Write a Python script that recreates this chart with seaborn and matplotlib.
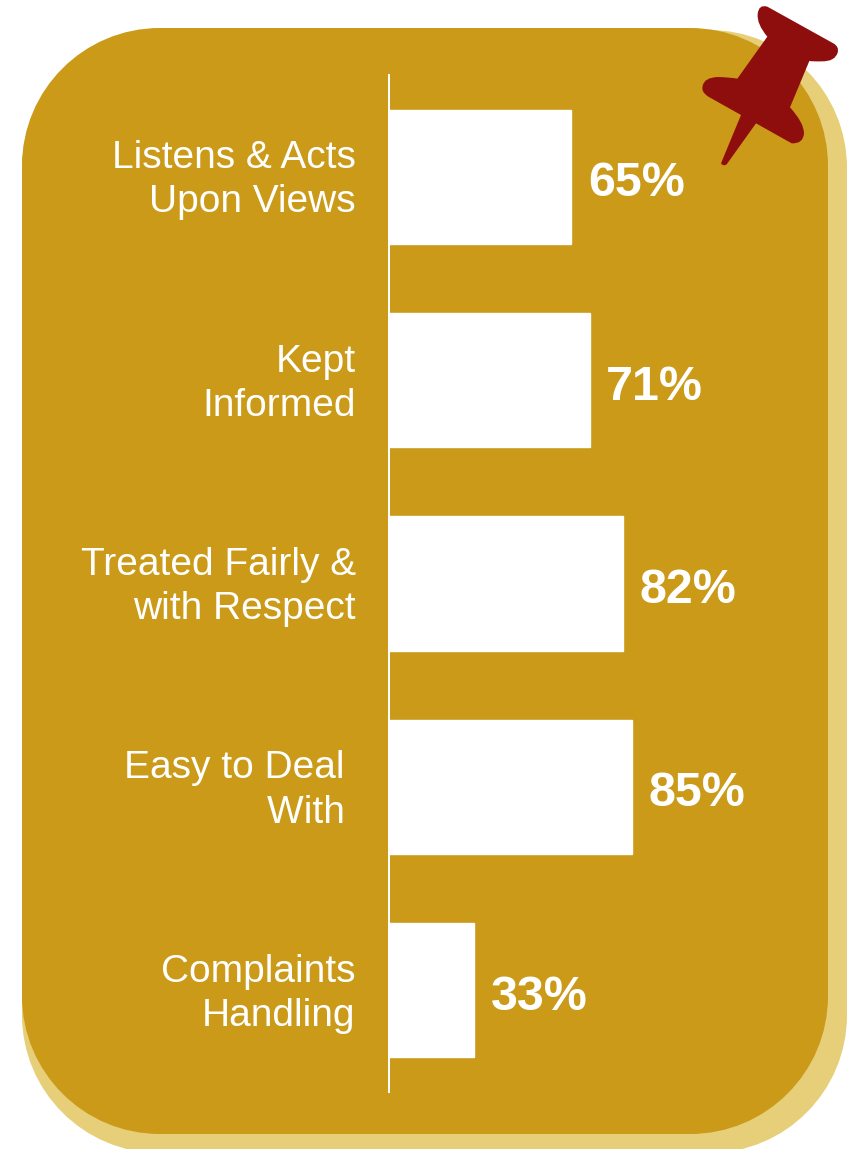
import matplotlib
matplotlib.use("Agg")
import matplotlib.pyplot as plt
import pandas as pd
import seaborn as sns
from matplotlib.patches import PathPatch
from matplotlib.path import Path
from matplotlib.transforms import ScaledTranslation

categories = [
    "Listens & Acts\nUpon Views",
    "Kept\nInformed",
    "Treated Fairly &\nwith Respect",
    "Easy to Deal \nWith ",
    "Complaints\nHandling",
]
scores = [65, 71, 82, 85, 33]
score_labels = ["65%", "71%", "82%", "85%", "33%"]

GOLD = "#CA9A18"
PALE_GOLD = "#E6CF78"
PIN_RED = "#8E0E0E"
W, H = 854, 1149

sns.set_style("white")
plt.rcParams["font.family"] = ["Liberation Sans", "DejaVu Sans"]

fig = plt.figure(figsize=(W / 100, H / 100), dpi=100, facecolor="white")

# Backing card and drawing pin, laid out in pixel units
bg = fig.add_axes([0, 0, 1, 1])
bg.set_xlim(0, W)
bg.set_ylim(H, 0)
bg.axis("off")

M, L, Q, B = Path.MOVETO, Path.LINETO, Path.CURVE3, Path.CURVE4


def card(x0, y0, x1, y1, r, color):
    # Rounded rectangle with true circular corners (cubic approximation)
    k = 0.5523 * r
    verts = [
        (x0 + r, y0), (x1 - r, y0),
        (x1 - r + k, y0), (x1, y0 + r - k), (x1, y0 + r),
        (x1, y1 - r),
        (x1, y1 - r + k), (x1 - r + k, y1), (x1 - r, y1),
        (x0 + r, y1),
        (x0 + r - k, y1), (x0, y1 - r + k), (x0, y1 - r),
        (x0, y0 + r),
        (x0, y0 + r - k), (x0 + r - k, y0), (x0 + r, y0),
    ]
    codes = [M, L, B, B, B, L, B, B, B, L, B, B, B, L, B, B, B]
    bg.add_patch(PathPatch(Path(verts, codes), fc=color, ec="none"))


card(22, 30, 847, 1153, 138, PALE_GOLD)
card(22, 28, 828, 1134, 138, GOLD)

# Pin outline, traced on a 3x grid anchored at x = 680
pin = [
    (M, (262, 20)), (L, (460, 130)),
    (Q, (478, 140)), (Q, (473, 158)),
    (Q, (465, 185)), (Q, (425, 184)),
    (Q, (405, 185)), (Q, (388, 183)),
    (L, (330, 322)),
    (Q, (372, 368)), (Q, (372, 400)),
    (Q, (370, 432)), (Q, (335, 430)),
    (L, (228, 370)), (L, (140, 493)),
    (Q, (130, 500)), (Q, (123, 490)),
    (L, (183, 345)), (L, (85, 290)),
    (Q, (62, 275)), (Q, (68, 258)),
    (Q, (72, 232)), (Q, (115, 231)),
    (Q, (150, 232)), (Q, (172, 236)),
    (L, (262, 110)),
    (Q, (230, 72)), (Q, (233, 42)),
    (Q, (236, 12)), (Q, (262, 20)),
]
pin_verts = [(680 + x / 3, y / 3) for _, (x, y) in pin]
bg.add_patch(PathPatch(Path(pin_verts, [c for c, _ in pin]),
                       fc=PIN_RED, ec="none", zorder=5))

# Horizontal bars, baseline at 5 on the value scale
ax = fig.add_axes([389 / W, 1 - 1092 / H, (828 - 389) / W, (1092 - 75) / H])
ax.patch.set_alpha(0)
df = pd.DataFrame({"category": categories, "score": scores})
sns.barplot(data=df, y="category", x="score", orient="h", color="white",
            saturation=1, width=0.66, ax=ax)
ax.set_xlim(5, 149.4)
ax.set_ylim(4.5, -0.5)
ax.set_xlabel("")
ax.set_ylabel("")
ax.set_xticks([])
sns.despine(ax=ax, top=True, right=True, bottom=True, left=False)
ax.spines["left"].set_color("white")
ax.spines["left"].set_linewidth(1.44)
ax.tick_params(axis="y", length=0, pad=24)

# Category labels sit a little above each bar's centre line
lift = ScaledTranslation(0, 4.5 / 100, fig.dpi_scale_trans)
for tick in ax.get_yticklabels():
    tick.set_color("white")
    tick.set_fontsize(28)
    tick.set_multialignment("right")
    tick.set_linespacing(1.29)
    tick.set_transform(tick.get_transform() + lift)

value_texts = ax.bar_label(ax.containers[0], labels=score_labels, padding=12,
                           color="white", fontsize=34.8, fontweight="bold")
# Value labels sit slightly under the bar centre
for t in value_texts:
    x_off, y_off = t.xyann
    t.xyann = (x_off, y_off - 5)

fig.savefig("out.png", dpi=100, facecolor="white")
